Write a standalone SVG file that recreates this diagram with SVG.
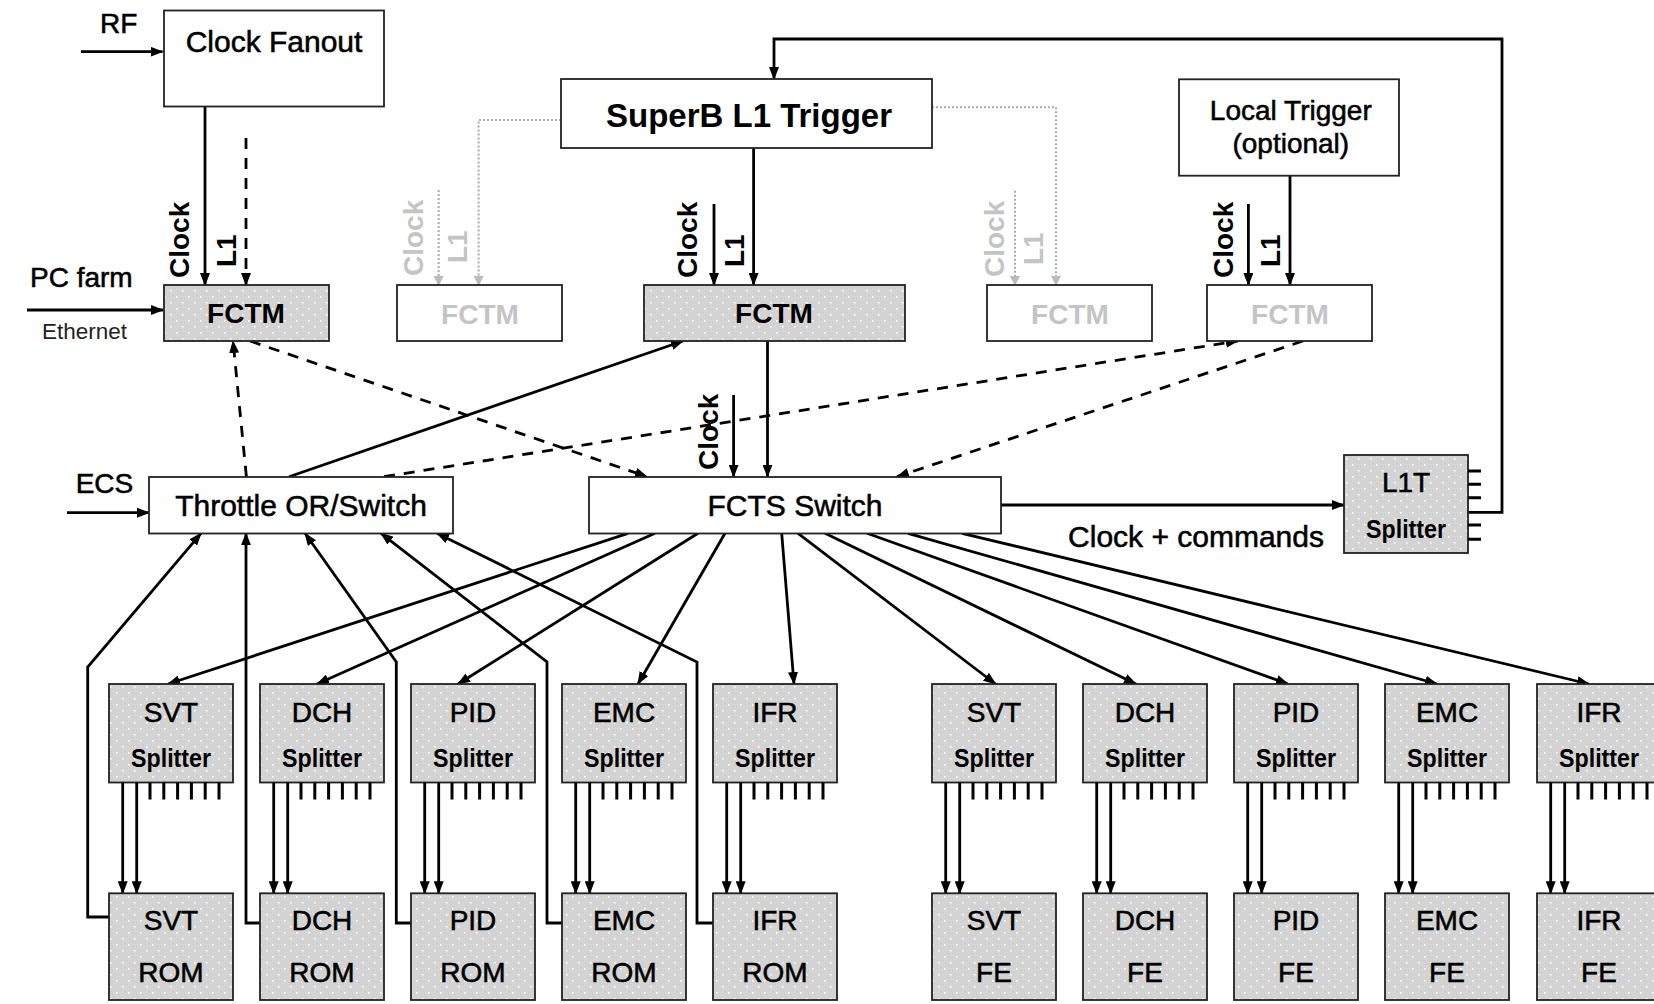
<svg xmlns="http://www.w3.org/2000/svg" width="1654" height="1004" viewBox="0 0 1654 1004">
<style>
text{font-family:"Liberation Sans",Arial,sans-serif;fill:#000}
.t30{font-size:30px}
.t28{font-size:28px}
.hv{stroke:#000;stroke-width:0.55}
.bold{font-weight:bold}
.c{text-anchor:middle}
.sp{font-size:25px;font-weight:bold}
.grey{fill:#c4c4c4}
.box{fill:#fff;stroke:#222;stroke-width:1.8}
.pbox{fill:url(#dots);stroke:#222;stroke-width:1.8}
.ln{fill:none;stroke:#000;stroke-width:2.8}
.dash{fill:none;stroke:#000;stroke-width:2.8;stroke-dasharray:11 9}
.gl{fill:none;stroke:#aaa;stroke-width:2;stroke-dasharray:2 2}
.pin{fill:none;stroke:#000;stroke-width:3}
</style>
<defs>
<pattern id="dots" width="12" height="12" patternUnits="userSpaceOnUse">
<rect width="12" height="12" fill="#d3d3d3"/>
<rect x="2" y="2" width="1.6" height="1.6" fill="#fff"/>
<rect x="8" y="8" width="1.6" height="1.6" fill="#fff"/>
</pattern>
<marker id="ah" viewBox="0 0 13 10" refX="12" refY="5" markerWidth="13" markerHeight="10" markerUnits="userSpaceOnUse" orient="auto">
<path d="M0,0 L13,5 L0,10 z" fill="#000"/>
</marker>
<marker id="gah" viewBox="0 0 10 10" refX="9" refY="5" markerWidth="10" markerHeight="10" markerUnits="userSpaceOnUse" orient="auto">
<path d="M0,0 L10,5 L0,10 z" fill="#bbb"/>
</marker>
</defs>

<g id="connectors">
<path class="ln" d="M81,51.7 H162.5" marker-end="url(#ah)"/>
<path class="ln" d="M205,106.7 V285" marker-end="url(#ah)"/>
<path class="dash" d="M246,138 V285" marker-end="url(#ah)"/>
<path class="ln" d="M27,310 H163" marker-end="url(#ah)"/>
<path class="ln" d="M67,512.7 H149" marker-end="url(#ah)"/>
<path class="ln" d="M753.6,148.3 V285" marker-end="url(#ah)"/>
<path class="ln" d="M714,204 V285" marker-end="url(#ah)"/>
<path class="ln" d="M1290,175.7 V285" marker-end="url(#ah)"/>
<path class="ln" d="M1248.4,204 V285" marker-end="url(#ah)"/>
<path class="ln" d="M767.5,341 V476.7" marker-end="url(#ah)"/>
<path class="ln" d="M733.6,395 V476.7" marker-end="url(#ah)"/>
<path class="ln" d="M1001,505 H1344" marker-end="url(#ah)"/>
<path class="ln" d="M1468,512.3 H1502 V39 H774 V79" marker-end="url(#ah)"/>
<path class="ln" d="M289,476.7 L683,341" marker-end="url(#ah)"/>
<path class="dash" d="M246.4,476.7 L233,341" marker-end="url(#ah)"/>
<path class="dash" d="M250,341 L647,476.7" marker-end="url(#ah)"/>
<path class="dash" d="M384,476.7 L1237.8,341" marker-end="url(#ah)"/>
<path class="dash" d="M1303,341 L897,476.7" marker-end="url(#ah)"/>
<path class="gl" d="M561,120 H478.6 V285" marker-end="url(#gah)"/>
<path class="gl" d="M438.6,190 V285" marker-end="url(#gah)"/>
<path class="gl" d="M932,107.3 H1056 V285" marker-end="url(#gah)"/>
<path class="gl" d="M1015,190.7 V285" marker-end="url(#gah)"/>
<path class="ln" d="M628,533.3 L168,684" marker-end="url(#ah)"/>
<path class="ln" d="M655,533.3 L317,684" marker-end="url(#ah)"/>
<path class="ln" d="M698,533.3 L458,684" marker-end="url(#ah)"/>
<path class="ln" d="M725,533.3 L638,684" marker-end="url(#ah)"/>
<path class="ln" d="M781.7,533.3 L794,684" marker-end="url(#ah)"/>
<path class="ln" d="M798,533.3 L995.5,684" marker-end="url(#ah)"/>
<path class="ln" d="M825,533.3 L1136,684" marker-end="url(#ah)"/>
<path class="ln" d="M867,533.3 L1288,684" marker-end="url(#ah)"/>
<path class="ln" d="M908,533.3 L1437,684" marker-end="url(#ah)"/>
<path class="ln" d="M962,533.3 L1589,684" marker-end="url(#ah)"/>
<path class="ln" d="M109,917 H87.7 V667 L201,533.3" marker-end="url(#ah)"/>
<path class="ln" d="M260,923 H246 V533.3" marker-end="url(#ah)"/>
<path class="ln" d="M411,923 H396.3 V662 L305,533.3" marker-end="url(#ah)"/>
<path class="ln" d="M562,923 H547 V662 L381,533.3" marker-end="url(#ah)"/>
<path class="ln" d="M713,923 H697 V662 L437,533.3" marker-end="url(#ah)"/>
</g>

<g id="labels">
<text class="t28 hv" x="100" y="33.3">RF</text>
<text class="t28 hv" x="30" y="287">PC farm</text>
<text x="42" y="339.3" style="font-size:22.5px;fill:#222">Ethernet</text>
<text class="t28 hv" x="75.7" y="493.3">ECS</text>
<text class="t30 hv" x="1324" y="546.7" text-anchor="end">Clock + commands</text>
<text class="t28 bold" transform="translate(189,278) rotate(-90)">Clock</text>
<text class="t28 bold" transform="translate(236,267) rotate(-90)">L1</text>
<text class="t28 bold" transform="translate(697,278) rotate(-90)">Clock</text>
<text class="t28 bold" transform="translate(743.6,267) rotate(-90)">L1</text>
<text class="t28 bold" transform="translate(1232.5,278) rotate(-90)">Clock</text>
<text class="t28 bold" transform="translate(1280,267) rotate(-90)">L1</text>
<text class="t28 bold" transform="translate(717.5,470) rotate(-90)">Clock</text>
<text class="t28 bold grey" transform="translate(423.3,276) rotate(-90)">Clock</text>
<text class="t28 bold grey" transform="translate(466.7,263) rotate(-90)">L1</text>
<text class="t28 bold grey" transform="translate(1004,277) rotate(-90)">Clock</text>
<text class="t28 bold grey" transform="translate(1043,265) rotate(-90)">L1</text>
</g>

<g id="clockFanout"><rect class="box" x="164" y="10.5" width="220" height="96"/><text class="t30 c hv" x="274" y="52">Clock Fanout</text></g>
<g id="superB"><rect class="box" x="561" y="79" width="371" height="69"/><text class="c bold" style="font-size:33px" x="749" y="127">SuperB L1 Trigger</text></g>
<g id="localTrigger"><rect class="box" x="1179" y="79.3" width="220" height="96.4"/><text class="t28 c hv" x="1290.8" y="120">Local Trigger</text><text class="t28 c hv" x="1290.8" y="153.3">(optional)</text></g>
<g id="fctm1"><rect class="pbox" x="164" y="285" width="165" height="56"/><text class="t28 c bold" x="246" y="323">FCTM</text></g>
<g id="fctm2"><rect class="box" x="397" y="285" width="165" height="56"/><text class="t28 c bold grey" x="480" y="324">FCTM</text></g>
<g id="fctmMain"><rect class="pbox" x="644" y="285" width="261" height="56"/><text class="t28 c bold" x="774" y="323">FCTM</text></g>
<g id="fctm3"><rect class="box" x="987" y="285" width="165" height="56"/><text class="t28 c bold grey" x="1070" y="324">FCTM</text></g>
<g id="fctm4"><rect class="box" x="1207" y="285" width="165" height="56"/><text class="t28 c bold grey" x="1290" y="324">FCTM</text></g>
<g id="throttle"><rect class="box" x="149" y="477" width="304" height="56.5"/><text class="t30 c hv" x="301" y="516">Throttle OR/Switch</text></g>
<g id="fcts"><rect class="box" x="589" y="477" width="412" height="56.5"/><text class="t30 c hv" x="795" y="516">FCTS Switch</text></g>
<g id="l1t"><rect class="pbox" x="1344" y="455" width="124" height="98"/><text class="t28 c hv" x="1406" y="492">L1T</text><text class="sp c" x="1406" y="538" textLength="80" lengthAdjust="spacingAndGlyphs">Splitter</text>
<path class="pin" d="M1468,471 H1481 M1468,484.3 H1481 M1468,497.7 H1481 M1468,525 H1481 M1468,539.3 H1481"/></g>

<g id="svtSplitterA"><rect class="pbox" x="109" y="684" width="124" height="98.5"/><text class="t28 c hv" x="171" y="722">SVT</text><text class="sp c" x="171" y="767" textLength="80" lengthAdjust="spacingAndGlyphs">Splitter</text><path class="pin" d="M150,782.5 v17 M163.8,782.5 v17 M177.6,782.5 v17 M191.4,782.5 v17 M205.2,782.5 v17 M219,782.5 v17"/><path class="ln" d="M122.7,782.5 V893.3" marker-end="url(#ah)"/><path class="ln" d="M136.7,782.5 V893.3" marker-end="url(#ah)"/></g>
<g id="dchSplitterA"><rect class="pbox" x="260" y="684" width="124" height="98.5"/><text class="t28 c hv" x="322" y="722">DCH</text><text class="sp c" x="322" y="767" textLength="80" lengthAdjust="spacingAndGlyphs">Splitter</text><path class="pin" d="M301,782.5 v17 M314.8,782.5 v17 M328.6,782.5 v17 M342.4,782.5 v17 M356.2,782.5 v17 M370,782.5 v17"/><path class="ln" d="M273.7,782.5 V893.3" marker-end="url(#ah)"/><path class="ln" d="M287.7,782.5 V893.3" marker-end="url(#ah)"/></g>
<g id="pidSplitterA"><rect class="pbox" x="411" y="684" width="124" height="98.5"/><text class="t28 c hv" x="473" y="722">PID</text><text class="sp c" x="473" y="767" textLength="80" lengthAdjust="spacingAndGlyphs">Splitter</text><path class="pin" d="M452,782.5 v17 M465.8,782.5 v17 M479.6,782.5 v17 M493.4,782.5 v17 M507.2,782.5 v17 M521,782.5 v17"/><path class="ln" d="M424.7,782.5 V893.3" marker-end="url(#ah)"/><path class="ln" d="M438.7,782.5 V893.3" marker-end="url(#ah)"/></g>
<g id="emcSplitterA"><rect class="pbox" x="562" y="684" width="124" height="98.5"/><text class="t28 c hv" x="624" y="722">EMC</text><text class="sp c" x="624" y="767" textLength="80" lengthAdjust="spacingAndGlyphs">Splitter</text><path class="pin" d="M603,782.5 v17 M616.8,782.5 v17 M630.6,782.5 v17 M644.4,782.5 v17 M658.2,782.5 v17 M672,782.5 v17"/><path class="ln" d="M575.7,782.5 V893.3" marker-end="url(#ah)"/><path class="ln" d="M589.7,782.5 V893.3" marker-end="url(#ah)"/></g>
<g id="ifrSplitterA"><rect class="pbox" x="713" y="684" width="124" height="98.5"/><text class="t28 c hv" x="775" y="722">IFR</text><text class="sp c" x="775" y="767" textLength="80" lengthAdjust="spacingAndGlyphs">Splitter</text><path class="pin" d="M754,782.5 v17 M767.8,782.5 v17 M781.6,782.5 v17 M795.4,782.5 v17 M809.2,782.5 v17 M823,782.5 v17"/><path class="ln" d="M726.7,782.5 V893.3" marker-end="url(#ah)"/><path class="ln" d="M740.7,782.5 V893.3" marker-end="url(#ah)"/></g>

<g id="svtRom"><rect class="pbox" x="109" y="893.3" width="124" height="106.7"/><text class="t28 c hv" x="171" y="930">SVT</text><text class="t28 c hv" x="171" y="982">ROM</text></g>
<g id="dchRom"><rect class="pbox" x="260" y="893.3" width="124" height="106.7"/><text class="t28 c hv" x="322" y="930">DCH</text><text class="t28 c hv" x="322" y="982">ROM</text></g>
<g id="pidRom"><rect class="pbox" x="411" y="893.3" width="124" height="106.7"/><text class="t28 c hv" x="473" y="930">PID</text><text class="t28 c hv" x="473" y="982">ROM</text></g>
<g id="emcRom"><rect class="pbox" x="562" y="893.3" width="124" height="106.7"/><text class="t28 c hv" x="624" y="930">EMC</text><text class="t28 c hv" x="624" y="982">ROM</text></g>
<g id="ifrRom"><rect class="pbox" x="713" y="893.3" width="124" height="106.7"/><text class="t28 c hv" x="775" y="930">IFR</text><text class="t28 c hv" x="775" y="982">ROM</text></g>

<g id="svtSplitterB"><rect class="pbox" x="932" y="684" width="124" height="98.5"/><text class="t28 c hv" x="994" y="722">SVT</text><text class="sp c" x="994" y="767" textLength="80" lengthAdjust="spacingAndGlyphs">Splitter</text><path class="pin" d="M973,782.5 v17 M986.8,782.5 v17 M1000.6,782.5 v17 M1014.4,782.5 v17 M1028.2,782.5 v17 M1042,782.5 v17"/><path class="ln" d="M945.7,782.5 V893.3" marker-end="url(#ah)"/><path class="ln" d="M959.7,782.5 V893.3" marker-end="url(#ah)"/></g>
<g id="dchSplitterB"><rect class="pbox" x="1083" y="684" width="124" height="98.5"/><text class="t28 c hv" x="1145" y="722">DCH</text><text class="sp c" x="1145" y="767" textLength="80" lengthAdjust="spacingAndGlyphs">Splitter</text><path class="pin" d="M1124,782.5 v17 M1137.8,782.5 v17 M1151.6,782.5 v17 M1165.4,782.5 v17 M1179.2,782.5 v17 M1193,782.5 v17"/><path class="ln" d="M1096.7,782.5 V893.3" marker-end="url(#ah)"/><path class="ln" d="M1110.7,782.5 V893.3" marker-end="url(#ah)"/></g>
<g id="pidSplitterB"><rect class="pbox" x="1234" y="684" width="124" height="98.5"/><text class="t28 c hv" x="1296" y="722">PID</text><text class="sp c" x="1296" y="767" textLength="80" lengthAdjust="spacingAndGlyphs">Splitter</text><path class="pin" d="M1275,782.5 v17 M1288.8,782.5 v17 M1302.6,782.5 v17 M1316.4,782.5 v17 M1330.2,782.5 v17 M1344,782.5 v17"/><path class="ln" d="M1247.7,782.5 V893.3" marker-end="url(#ah)"/><path class="ln" d="M1261.7,782.5 V893.3" marker-end="url(#ah)"/></g>
<g id="emcSplitterB"><rect class="pbox" x="1385" y="684" width="124" height="98.5"/><text class="t28 c hv" x="1447" y="722">EMC</text><text class="sp c" x="1447" y="767" textLength="80" lengthAdjust="spacingAndGlyphs">Splitter</text><path class="pin" d="M1426,782.5 v17 M1439.8,782.5 v17 M1453.6,782.5 v17 M1467.4,782.5 v17 M1481.2,782.5 v17 M1495,782.5 v17"/><path class="ln" d="M1398.7,782.5 V893.3" marker-end="url(#ah)"/><path class="ln" d="M1412.7,782.5 V893.3" marker-end="url(#ah)"/></g>
<g id="ifrSplitterB"><rect class="pbox" x="1537" y="684" width="124" height="98.5"/><text class="t28 c hv" x="1599" y="722">IFR</text><text class="sp c" x="1599" y="767" textLength="80" lengthAdjust="spacingAndGlyphs">Splitter</text><path class="pin" d="M1578,782.5 v17 M1591.8,782.5 v17 M1605.6,782.5 v17 M1619.4,782.5 v17 M1633.2,782.5 v17 M1647,782.5 v17"/><path class="ln" d="M1550.7,782.5 V893.3" marker-end="url(#ah)"/><path class="ln" d="M1564.7,782.5 V893.3" marker-end="url(#ah)"/></g>

<g id="svtFe"><rect class="pbox" x="932" y="893.3" width="124" height="106.7"/><text class="t28 c hv" x="994" y="930">SVT</text><text class="t28 c hv" x="994" y="982">FE</text></g>
<g id="dchFe"><rect class="pbox" x="1083" y="893.3" width="124" height="106.7"/><text class="t28 c hv" x="1145" y="930">DCH</text><text class="t28 c hv" x="1145" y="982">FE</text></g>
<g id="pidFe"><rect class="pbox" x="1234" y="893.3" width="124" height="106.7"/><text class="t28 c hv" x="1296" y="930">PID</text><text class="t28 c hv" x="1296" y="982">FE</text></g>
<g id="emcFe"><rect class="pbox" x="1385" y="893.3" width="124" height="106.7"/><text class="t28 c hv" x="1447" y="930">EMC</text><text class="t28 c hv" x="1447" y="982">FE</text></g>
<g id="ifrFe"><rect class="pbox" x="1537" y="893.3" width="124" height="106.7"/><text class="t28 c hv" x="1599" y="930">IFR</text><text class="t28 c hv" x="1599" y="982">FE</text></g>
</svg>
